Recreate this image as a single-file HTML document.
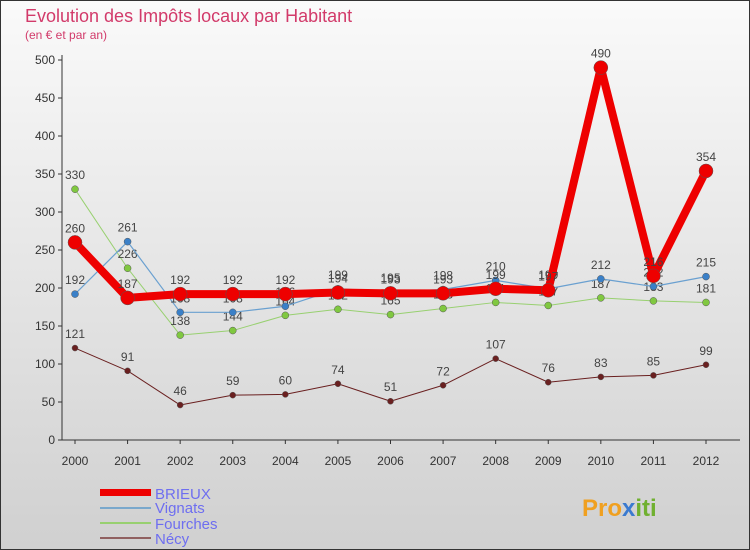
<!DOCTYPE html>
<html><head><meta charset="utf-8"><style>
body{margin:0;width:750px;height:550px;overflow:hidden;font-family:"Liberation Sans",sans-serif}
svg{display:block}
</style></head><body>
<svg id="c" width="750" height="550">
<defs><linearGradient id="bg" x1="0" y1="0" x2="0" y2="1"><stop offset="0" stop-color="#fafafa"/><stop offset="1" stop-color="#d0d0d0"/></linearGradient></defs>
<rect x="0.5" y="0.5" width="749" height="549" fill="url(#bg)" stroke="#333"/>
<text x="25" y="22" font-size="18" fill="#d23a6a">Evolution des Impôts locaux par Habitant</text>
<text x="25" y="39" font-size="12" fill="#d23a6a">(en € et par an)</text>
<g id="axes"></g><g id="series"></g>
<g>
<rect x="100" y="489" width="51" height="7" fill="#e00"/>
<rect x="100" y="507" width="51" height="2" fill="#7aa8cc"/>
<rect x="100" y="522" width="51" height="2" fill="#98d070"/>
<rect x="100" y="537" width="51" height="2" fill="#906060"/>
<g font-size="15" fill="#6e6ef0">
<text x="155" y="499">BRIEUX</text>
<text x="155" y="513">Vignats</text>
<text x="155" y="529">Fourches</text>
<text x="155" y="544">Nécy</text>
</g></g>
<g font-size="24" font-weight="bold">
<text x="582" y="516" fill="#f0a020">Pro<tspan fill="#3a7ad0">x</tspan><tspan fill="#70b030">iti</tspan></text></g>
</svg>
<script>
const years=[2000,2001,2002,2003,2004,2005,2006,2007,2008,2009,2010,2011,2012];
const yTicks=[0,50,100,150,200,250,300,350,400,450,500];
const brieux=[260,187,192,192,192,194,193,193,199,197,490,216,354];
const vignats=[192,261,168,168,176,199,195,198,210,199,212,202,215];
const fourches=[330,226,138,144,164,172,165,173,181,177,187,183,181];
const necy=[121,91,46,59,60,74,51,72,107,76,83,85,99];
const NS="http://www.w3.org/2000/svg";
const X=i=>75+i*(706-75)/(years.length-1);
const Y=v=>440-v*0.76;
function mk(t,a,p){const e=document.createElementNS(NS,t);for(const k in a)e.setAttribute(k,a[k]);p.appendChild(e);return e;}
const ax=document.getElementById('axes');
const yl=mk('line',{x1:62,y1:55,x2:62,y2:440,stroke:'#333'},ax);


const xl=mk('line',{x1:62,y1:440,x2:740,y2:440,stroke:'#333'},ax);


yTicks.forEach(v=>{
 mk('line',{x1:58,y1:Y(v),x2:62,y2:Y(v),stroke:'#333'},ax);
 const t=mk('text',{x:55,y:Y(v)+4,'font-size':12,fill:'#333','text-anchor':'end'},ax);t.textContent=v;
 
 
});
years.forEach((y,i)=>{
 mk('line',{x1:X(i),y1:440,x2:X(i),y2:444,stroke:'#333'},ax);
 const t=mk('text',{x:X(i),y:465,'font-size':12,fill:'#333','text-anchor':'middle'},ax);t.textContent=y;
 
 
});
const sg=document.getElementById('series');
function draw(data,color,w,r,name,dot){
 const g=mk('g',{},sg);
 
 
 const pl=mk('polyline',{points:data.map((v,i)=>X(i)+','+Y(v)).join(' '),fill:'none',stroke:color,'stroke-width':w,'stroke-linejoin':'round'},g);
 
 
 data.forEach((v,i)=>{
  const c=mk('circle',{cx:X(i),cy:Y(v),r:r,fill:dot,stroke:'#555','stroke-width':0.5},g);
  
  
  const t=mk('text',{x:X(i),y:Y(v)-10,'font-size':12,fill:'#444','text-anchor':'middle'},g);t.textContent=v;
  
  
 });
}
draw(necy,'#6a2020',1,3,'necy','#6a2020');
draw(fourches,'#98d070',1,3.5,'fourches','#80c840');
draw(vignats,'#6aa0d0',1.2,3.5,'vignats','#3a80c8');
draw(brieux,'#ee0000',8,7,'brieux','#ee0000');
</script>
</body></html>
